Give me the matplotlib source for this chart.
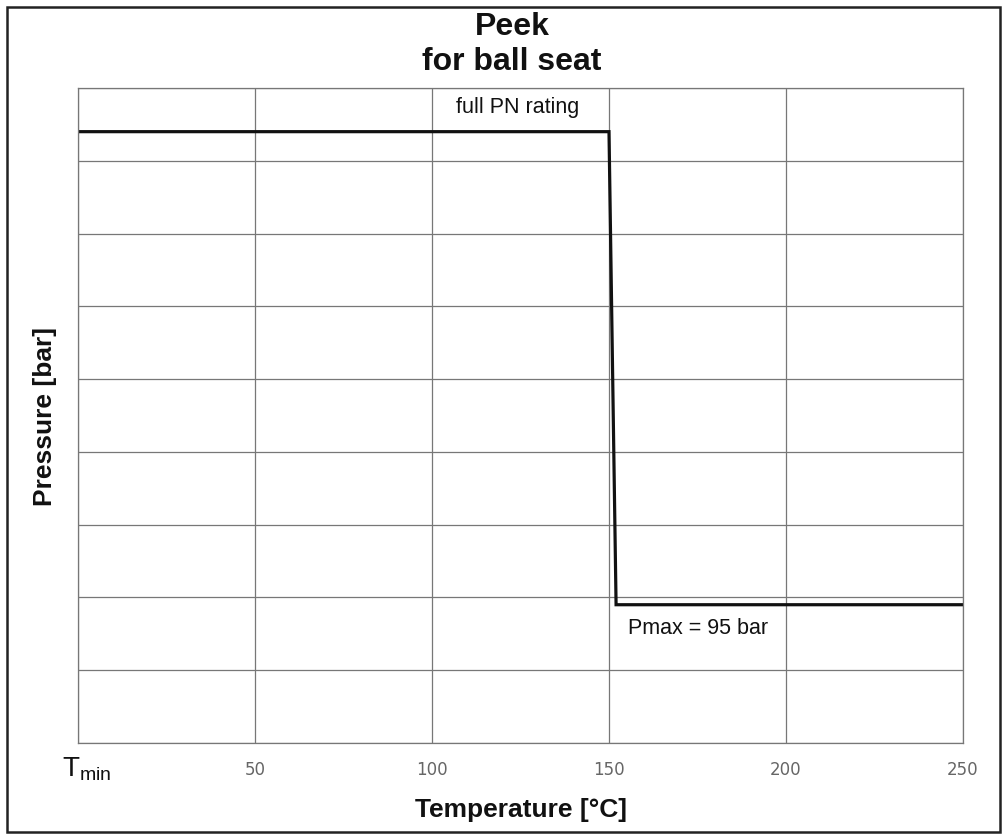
import matplotlib
matplotlib.use("Agg")
import matplotlib.pyplot as plt
from matplotlib.patches import Rectangle
from matplotlib.transforms import blended_transform_factory, ScaledTranslation

# pressure/temperature rating curve
temps = [0, 150, 152, 250]
pressure = [420, 420, 95, 95]
xticks = [0, 50, 100, 150, 200, 250]
xtick_labels = ["", "50", "100", "150", "200", "250"]
yticks = [0, 50, 100, 150, 200, 250, 300, 350, 400, 450]

plt.rcParams['font.family'] = ['Liberation Sans', 'DejaVu Sans']
plt.rcParams['mathtext.fontset'] = 'custom'
plt.rcParams['mathtext.rm'] = 'Liberation Sans'

W, H = 1006, 835
fig = plt.figure(figsize=(W / 100, H / 100), dpi=100)
ax = fig.add_axes([78 / W, (H - 743) / H, (963 - 78) / W, (743 - 88) / H])

ax.plot(temps, pressure, color='#111111', lw=2.3, solid_joinstyle='miter')
ax.set_xlim(0, 250)
ax.set_ylim(0, 450)
ax.set_xticks(xticks)
ax.set_xticklabels(xtick_labels, family='DejaVu Sans', fontsize=12, color='#666666')
ax.set_yticks(yticks)
ax.set_yticklabels([])
ax.tick_params(length=0, pad=13)
ax.grid(True, color='#777777', lw=0.9)
for s in ax.spines.values():
    s.set_color('#777777')
    s.set_linewidth(0.9)

# T_min label at the left end of the axis
tr = blended_transform_factory(ax.transData, ax.transAxes) + \
    ScaledTranslation(-16 / 100, -26 / 100, fig.dpi_scale_trans)
ax.text(0, 0, r'$\mathregular{T_{min}}$', transform=tr,
        fontsize=20, ha='left', va='center', color='#111111')

ax.text(124.3, 433, 'full PN rating', fontsize=15.5, ha='center', va='baseline', color='#111111')
ax.text(155.4, 79, 'Pmax = 95 bar', fontsize=15.5, ha='left', va='center', color='#111111')

fig.text(521 / W, 1 - 810 / H, 'Temperature [°C]', fontsize=19, fontweight='bold',
         ha='center', va='center', color='#111111')
fig.text(45 / W, 1 - 416 / H, 'Pressure [bar]', fontsize=19, fontweight='bold',
         ha='center', va='center', rotation=90, color='#111111')

fig.text(512 / W, 1 - 27 / H, 'Peek', fontsize=23, fontweight='bold', ha='center', va='center', color='#111111')
fig.text(512 / W, 1 - 62 / H, 'for ball seat', fontsize=23, fontweight='bold', ha='center', va='center', color='#111111')

# outer frame
fig.patches.append(Rectangle((7 / W, 3 / H), (1000 - 7) / W, (828 - 3) / H, transform=fig.transFigure,
                             fill=False, edgecolor='#222222', lw=1.8))

fig.savefig('out.png', dpi=100)
